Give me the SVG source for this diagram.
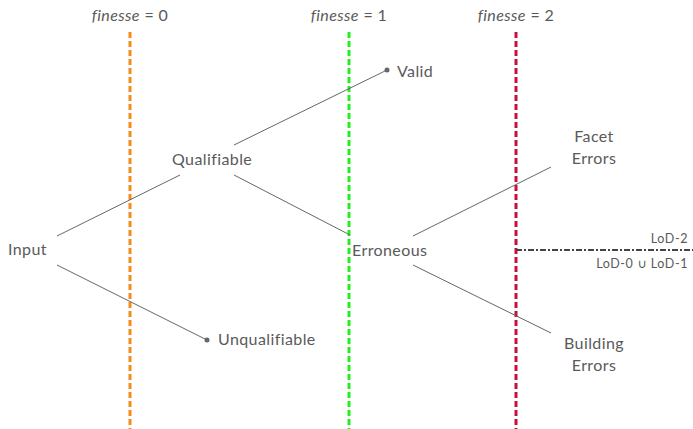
<svg xmlns="http://www.w3.org/2000/svg" width="693" height="429" viewBox="0 0 693 429">
<style>
text{font-family:Lato,"Open Sans","DejaVu Sans",sans-serif;fill:#5a5a5a;font-size:16px;letter-spacing:0.4px}
.s{font-size:12.5px;letter-spacing:0.6px}
.u{font-family:"DejaVu Sans",sans-serif;font-weight:normal}
.e{stroke:#666;stroke-width:1;fill:none}
.v{stroke-width:3;stroke-dasharray:6 3;fill:none}
.dot{fill:#666}
</style>
<rect width="693" height="429" fill="#fff"/>
<g id="headers">
<text x="130" y="21" text-anchor="middle"><tspan font-style="italic">finesse</tspan> = 0</text>
<text x="349" y="21" text-anchor="middle"><tspan font-style="italic">finesse</tspan> = 1</text>
<text x="516" y="21" text-anchor="middle"><tspan font-style="italic">finesse</tspan> = 2</text>
</g>
<g id="levels">
<line class="v" x1="130" y1="32" x2="130" y2="429" stroke="#f58a1f"/>
<line class="v" x1="349" y1="32" x2="349" y2="429" stroke="#22ee22"/>
<line class="v" x1="516" y1="32" x2="516" y2="429" stroke="#c8103e"/>
</g>
<g id="connectors">
<line class="e" x1="57" y1="236" x2="180" y2="175"/>
<line class="e" x1="57" y1="265" x2="207" y2="340"/>
<line class="e" x1="234" y1="145" x2="387" y2="70"/>
<line class="e" x1="234" y1="175" x2="350" y2="235"/>
<line class="e" x1="413" y1="236" x2="551" y2="167"/>
<line class="e" x1="413" y1="265" x2="551" y2="333"/>
<line x1="516" y1="250" x2="693" y2="250" stroke="#444" stroke-width="2" stroke-dasharray="6 2 2 2"/>
<circle class="dot" cx="387" cy="70" r="2.5"/>
<circle class="dot" cx="207" cy="340" r="2.5"/>
</g>
<g id="input"><text x="8" y="255">Input</text></g>
<g id="qualifiable"><text x="172" y="165">Qualifiable</text></g>
<g id="valid"><text x="397" y="77">Valid</text></g>
<g id="unqualifiable"><text x="218" y="345">Unqualifiable</text></g>
<g id="erroneous"><text x="352" y="256">Erroneous</text></g>
<g id="facet"><text x="594" y="142" text-anchor="middle">Facet</text><text x="594" y="164" text-anchor="middle">Errors</text></g>
<g id="building"><text x="594" y="349" text-anchor="middle">Building</text><text x="594" y="371" text-anchor="middle">Errors</text></g>
<g id="lod"><text class="s" x="688" y="243" text-anchor="end">LoD-2</text><text class="s" x="688" y="268" text-anchor="end">LoD-0 <tspan class="u">∪</tspan> LoD-1</text></g>
</svg>
